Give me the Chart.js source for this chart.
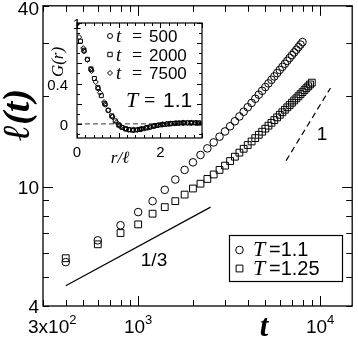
<!DOCTYPE html>
<html>
<head>
<meta charset="utf-8">
<script src="https://cdn.jsdelivr.net/npm/chart.js@4.4.1/dist/chart.umd.min.js"></script>
<style>
  html, body { margin: 0; padding: 0; background: #fff; }
  #wrap { position: relative; width: 358px; height: 340px; }
  #main { position: absolute; left: 0; top: 0; }
  #inset { position: absolute; left: 45px; top: 12px; }
</style>
</head>
<body>
<div id="wrap">
  <canvas id="main" width="358" height="340"></canvas>
  <canvas id="inset" width="165" height="160"></canvas>
</div>
<script>
// main panel: domain size l(t) vs time t
const tT11 = [400, 600, 800, 1000, 1200, 1400, 1600, 1800, 2000, 2200, 2400, 2600, 2800, 3000,
  3200, 3400, 3600, 3800, 4000, 4200, 4400, 4600, 4800, 5000, 5200, 5400, 5600, 5800, 6000,
  6200, 6400, 6600, 6800, 7000, 7200, 7400, 7600, 7800, 8000];
const ellT11 = [5.60, 6.62, 7.43, 8.22, 8.94, 9.75, 10.55, 11.36, 12.04, 12.74, 13.40, 14.03, 14.66, 15.26,
  15.88, 16.50, 17.12, 17.75, 18.37, 18.99, 19.61, 20.23, 20.84, 21.45, 22.06, 22.67, 23.27, 23.87, 24.47,
  25.05, 25.64, 26.23, 26.82, 27.40, 27.98, 28.56, 29.14, 29.71, 30.28];

const tT125 = [400, 600, 800, 1000, 1200, 1400, 1600, 1800, 2000, 2200, 2400, 2600, 2800, 3000,
  3200, 3400, 3600, 3800, 4000, 4200, 4400, 4600, 4800, 5000, 5200, 5400, 5600, 5800, 6000,
  6200, 6400, 6600, 6800, 7000, 7200, 7400, 7600, 7800, 8000, 8200, 8400, 8600, 8800, 9000];
const ellT125 = [5.77, 6.42, 7.00, 7.48, 8.12, 8.54, 8.94, 9.40, 9.85, 10.22, 10.60, 10.97, 11.36, 11.74,
  12.16, 12.57, 12.97, 13.36, 13.75, 14.13, 14.50, 14.87, 15.23, 15.59, 15.95, 16.30, 16.65, 17.00, 17.34,
  17.68, 18.02, 18.36, 18.69, 19.02, 19.35, 19.67, 19.99, 20.31, 20.63, 20.95, 21.26, 21.57, 21.88, 22.19];

// guide lines, slopes 1/3 and 1
const thirdT = [400, 2500];
const thirdL = [4.67, 8.54];
const oneT = [6500, 11400];
const oneL = [12.2, 21.3];

const xTicks = [300, 400, 500, 600, 700, 800, 900, 1000, 2000, 3000, 4000, 5000, 6000, 7000, 8000, 9000, 10000];
const xMajor = [1000, 10000];
const xLabelVals = [300, 1000, 10000];
const xLabelBase = ['3x10', '10', '10'];
const xLabelExp = ['2', '3', '4'];
const yTicks = [4, 5, 6, 7, 8, 9, 10, 20, 30, 40];
const yMajor = [10];
const yLabelVals = [4, 10, 40];
const yLabelText = ['4', '10', '40'];

const legendNames = ['1.1', '1.25'];

// inset: G(r) against r/l
const rT500 = [0, 0.17, 0.34, 0.51, 0.68, 0.85, 1.02, 1.19, 1.36, 1.53, 1.70, 1.87, 2.04, 2.21, 2.38, 2.55, 2.72, 2.89];
const gT500 = [1.0, 0.72, 0.54, 0.35, 0.19, 0.07, -0.02, -0.05, -0.06, -0.05, -0.035, -0.018, -0.006, 0.0, 0.007, 0.01, 0.01, 0.008];
const rT2000 = [0, 0.083, 0.167, 0.25, 0.333, 0.417, 0.5, 0.583, 0.667, 0.75, 0.833, 0.917, 1.0, 1.083, 1.167, 1.25,
  1.333, 1.417, 1.5, 1.583, 1.667, 1.75, 1.833, 1.917, 2.0, 2.083, 2.167, 2.25, 2.333, 2.417, 2.5, 2.583, 2.667, 2.75, 2.833, 2.917];
const gT2000 = [1.0, 0.82, 0.73, 0.64, 0.545, 0.45, 0.36, 0.28, 0.20, 0.135, 0.08, 0.03, -0.01, -0.035, -0.05, -0.058,
  -0.062, -0.06, -0.056, -0.048, -0.04, -0.032, -0.024, -0.016, -0.01, -0.005, -0.001, 0.002, 0.005, 0.007, 0.009, 0.01, 0.01, 0.01, 0.01, 0.009];
const rT7500 = [0, 0.05, 0.15, 0.25, 0.35, 0.45, 0.55, 0.65, 0.75, 0.85, 0.95, 1.05, 1.15, 1.25, 1.35, 1.45,
  1.55, 1.65, 1.75, 1.85, 1.95, 2.05, 2.15, 2.25, 2.35, 2.45, 2.55, 2.65, 2.75, 2.85, 2.95];
const gT7500 = [1.0, 0.86, 0.75, 0.635, 0.525, 0.415, 0.31, 0.215, 0.135, 0.07, 0.015, -0.025, -0.048, -0.058, -0.061, -0.058,
  -0.05, -0.04, -0.03, -0.02, -0.012, -0.005, 0.0, 0.003, 0.006, 0.008, 0.01, 0.01, 0.01, 0.01, 0.009];
const zeroR = [0, 3];
const zeroG = [0, 0];

const insetXTicks = [0, 0.2, 0.4, 0.6, 0.8, 1, 1.2, 1.4, 1.6, 1.8, 2, 2.2, 2.4, 2.6, 2.8, 3];
const insetXMajor = [0, 1, 2, 3];
const insetXLabelVals = [0, 2];
const insetYTicks = [-0.1, 0, 0.1, 0.2, 0.3, 0.4, 0.5, 0.6, 0.7, 0.8, 0.9, 1];
const insetYMajor = [0, 0.2, 0.4, 0.6, 0.8, 1];
const insetYLabelVals = [1, 0.4, 0];
const insetYLabelText = ['1', '0.4', '0'];
const insetLegend = ['500', '2000', '7500'];

const SANS = '"Liberation Sans", Arial, sans-serif';
const SERIF = '"Liberation Serif", "DejaVu Serif", serif';

const pts = (xs, ys) => xs.map((x, i) => ({ x: x, y: ys[i] }));

// border round the plot plus ticks pointing inwards on all four sides
const frame = {
  id: 'frame',
  afterDatasetsDraw(chart, args, opts) {
    const { ctx, chartArea: a, scales } = chart;
    ctx.save();
    ctx.strokeStyle = '#000';
    ctx.lineWidth = opts.width;
    ctx.beginPath();
    scales.x.ticks.forEach(t => {
      const px = Math.round(scales.x.getPixelForValue(t.value)) + 0.5;
      const len = t.major ? opts.major : opts.minor;
      ctx.moveTo(px, a.bottom); ctx.lineTo(px, a.bottom - len);
      ctx.moveTo(px, a.top); ctx.lineTo(px, a.top + len);
    });
    scales.y.ticks.forEach(t => {
      const py = Math.round(scales.y.getPixelForValue(t.value)) + 0.5;
      const len = t.major ? opts.major : opts.minor;
      ctx.moveTo(a.left, py); ctx.lineTo(a.left + len, py);
      ctx.moveTo(a.right, py); ctx.lineTo(a.right - len, py);
    });
    ctx.stroke();
    ctx.lineWidth = opts.border;
    ctx.strokeRect(a.left, a.top, a.right - a.left, a.bottom - a.top);
    ctx.restore();
  }
};

// text made of pieces in different fonts: [text, font, dy]
function rich(ctx, x, y, parts) {
  let cx = x;
  parts.forEach(p => {
    ctx.font = p[1];
    ctx.fillText(p[0], cx, y + (p[2] || 0));
    cx += ctx.measureText(p[0]).width;
  });
}

function marker(ctx, style, x, y, r) {
  ctx.beginPath();
  if (style === 'circle') ctx.arc(x, y, r, 0, Math.PI * 2);
  else if (style === 'rect') ctx.rect(x - r, y - r, 2 * r, 2 * r);
  else { ctx.moveTo(x, y - r); ctx.lineTo(x + r, y); ctx.lineTo(x, y + r); ctx.lineTo(x - r, y); ctx.closePath(); }
  ctx.stroke();
}

const mainText = {
  id: 'mainText',
  afterDraw(chart) {
    const { ctx, scales } = chart;
    ctx.save();
    ctx.fillStyle = '#000';
    ctx.strokeStyle = '#000';
    ctx.textBaseline = 'alphabetic';
    // y tick labels
    ctx.font = '19px ' + SANS;
    ctx.textAlign = 'right';
    yLabelVals.forEach((v, i) => {
      const py = scales.y.getPixelForValue(v);
      ctx.fillText(yLabelText[i], 39, Math.max(py + 7, 15));
    });
    ctx.textAlign = 'left';
    // x tick labels with exponents
    xLabelVals.forEach((v, i) => {
      const px = scales.x.getPixelForValue(v);
      const parts = [[xLabelBase[i], '19px ' + SANS], [xLabelExp[i], '13px ' + SANS, -9]];
      let w = 0;
      parts.forEach(p => { ctx.font = p[1]; w += ctx.measureText(p[0]).width; });
      rich(ctx, Math.max(px - w / 2, 28), 333, parts);
    });
    // axis titles
    ctx.font = 'italic bold 31px ' + SERIF;
    ctx.textAlign = 'center';
    ctx.fillText('t', 264, 336);
    ctx.save();
    ctx.translate(19, 115);
    ctx.rotate(-Math.PI / 2);
    ctx.textBaseline = 'middle';
    ctx.font = 'italic bold 38px ' + SERIF;
    ctx.fillText('\u2113(t)', 0, 0);
    ctx.restore();
    // slope labels
    ctx.font = '19px ' + SANS;
    ctx.fillText('1/3', 154, 266);
    ctx.fillText('1', 322, 140);
    // legend
    ctx.lineWidth = 1.2;
    ctx.strokeRect(229.5, 235.5, 113, 46);
    ctx.lineWidth = 1;
    marker(ctx, 'circle', 239.5, 250, 3.8);
    marker(ctx, 'rect', 239.5, 268.5, 3.4);
    ctx.textAlign = 'left';
    legendNames.forEach((n, i) => {
      const y = 256 + i * 19;
      ctx.font = 'italic 22px ' + SERIF;
      ctx.fillText('T', 253, y);
      ctx.font = '20px ' + SANS;
      ctx.fillText('=' + n, 269, y);
    });
    ctx.restore();
  }
};

new Chart(document.getElementById('main'), {
  type: 'scatter',
  data: {
    datasets: [
      { data: pts(tT11, ellT11), pointStyle: 'circle', pointRadius: 3.8, borderColor: '#000', backgroundColor: 'rgba(0,0,0,0)', borderWidth: 1 },
      { data: pts(tT125, ellT125), pointStyle: 'rect', pointRadius: 4.8, borderColor: '#000', backgroundColor: 'rgba(0,0,0,0)', borderWidth: 1 },
      { data: pts(thirdT, thirdL), showLine: true, pointRadius: 0, borderColor: '#000', borderWidth: 1.2 },
      { data: pts(oneT, oneL), showLine: true, pointRadius: 0, borderColor: '#000', borderWidth: 1.2, borderDash: [6, 4] }
    ]
  },
  options: {
    responsive: false,
    animation: false,
    devicePixelRatio: 1,
    layout: { padding: { top: 5, right: 2, left: 0, bottom: 0 } },
    plugins: {
      legend: { display: false },
      tooltip: { enabled: false },
      frame: { width: 1, border: 1.3, major: 10, minor: 6 }
    },
    scales: {
      x: {
        type: 'logarithmic', min: 300, max: 15000,
        grid: { display: false }, border: { display: false }, ticks: { display: false },
        afterBuildTicks: s => { s.ticks = xTicks.map(v => ({ value: v, major: xMajor.includes(v) })); },
        afterFit: s => { s.height = 34; }
      },
      y: {
        type: 'logarithmic', min: 4, max: 40,
        grid: { display: false }, border: { display: false }, ticks: { display: false },
        afterBuildTicks: s => { s.ticks = yTicks.map(v => ({ value: v, major: yMajor.includes(v) })); },
        afterFit: s => { s.width = 43; }
      }
    }
  },
  plugins: [frame, mainText]
});

const insetText = {
  id: 'insetText',
  beforeDraw(chart) {
    const { ctx, chartArea: a } = chart;
    ctx.save();
    ctx.fillStyle = '#fff';
    ctx.fillRect(a.left, a.top, a.right - a.left, a.bottom - a.top);
    ctx.restore();
  },
  afterDraw(chart) {
    const { ctx, scales } = chart;
    ctx.save();
    ctx.fillStyle = '#000';
    ctx.strokeStyle = '#000';
    ctx.textBaseline = 'alphabetic';
    ctx.font = '15px ' + SANS;
    insetYLabelVals.forEach((v, i) => {
      const py = scales.y.getPixelForValue(v);
      ctx.textAlign = i === 0 ? 'center' : 'right';
      ctx.fillText(insetYLabelText[i], i === 0 ? 32 : 23, py + 6);
    });
    ctx.textAlign = 'center';
    insetXLabelVals.forEach(v => {
      ctx.fillText(String(v), scales.x.getPixelForValue(v), 145);
    });
    ctx.font = 'italic 17px ' + SERIF;
    ctx.fillText('r/\u2113', 75, 151);
    ctx.save();
    ctx.translate(18, 50);
    ctx.rotate(-Math.PI / 2);
    ctx.fillText('G(r)', 0, 0);
    ctx.restore();
    // legend of the three times
    ctx.lineWidth = 1;
    const styles = ['circle', 'rect', 'diamond'];
    ctx.textAlign = 'left';
    insetLegend.forEach((n, i) => {
      const y = 24 + i * 18.5;
      marker(ctx, styles[i], 65, y, styles[i] === 'rect' ? 2.2 : 2.5);
      ctx.font = 'italic 19px ' + SERIF;
      ctx.fillText('t', 71, y + 6);
      ctx.font = '18px ' + SERIF;
      ctx.fillText('=', 87, y + 6);
      ctx.font = '17px ' + SANS;
      ctx.fillText(n, 104, y + 6);
    });
    ctx.font = 'italic 22px ' + SERIF;
    ctx.fillText('T', 81, 95);
    ctx.font = '20px ' + SERIF;
    ctx.fillText('=', 99, 95);
    ctx.font = '21px ' + SANS;
    ctx.fillText('1.1', 118, 95);
    ctx.restore();
  }
};

new Chart(document.getElementById('inset'), {
  type: 'scatter',
  data: {
    datasets: [
      { data: pts(zeroR, zeroG), showLine: true, pointRadius: 0, borderColor: '#000', borderWidth: 0.8, borderDash: [5, 3] },
      { data: pts(rT500, gT500), pointStyle: 'circle', pointRadius: 2.2, borderColor: '#000', backgroundColor: 'rgba(0,0,0,0)', borderWidth: 1 },
      { data: pts(rT2000, gT2000), pointStyle: 'rect', pointRadius: 2.8, borderColor: '#000', backgroundColor: 'rgba(0,0,0,0)', borderWidth: 1 },
      { data: pts(rT7500, gT7500), pointStyle: 'rectRot', pointRadius: 2.6, borderColor: '#000', backgroundColor: 'rgba(0,0,0,0)', borderWidth: 1 }
    ]
  },
  options: {
    responsive: false,
    animation: false,
    devicePixelRatio: 1,
    layout: { padding: { top: 11, right: 8, left: 0, bottom: 0 } },
    plugins: {
      legend: { display: false },
      tooltip: { enabled: false },
      frame: { width: 1, border: 1.2, major: 5, minor: 3 }
    },
    scales: {
      x: {
        type: 'linear', min: 0, max: 3,
        grid: { display: false }, border: { display: false }, ticks: { display: false },
        afterBuildTicks: s => { s.ticks = insetXTicks.map(v => ({ value: v, major: insetXMajor.includes(v) })); },
        afterFit: s => { s.height = 34; }
      },
      y: {
        type: 'linear', min: -0.14, max: 1,
        grid: { display: false }, border: { display: false }, ticks: { display: false },
        afterBuildTicks: s => { s.ticks = insetYTicks.map(v => ({ value: v, major: insetYMajor.includes(v) })); },
        afterFit: s => { s.width = 32; }
      }
    }
  },
  plugins: [frame, insetText]
});
</script>
</body>
</html>
